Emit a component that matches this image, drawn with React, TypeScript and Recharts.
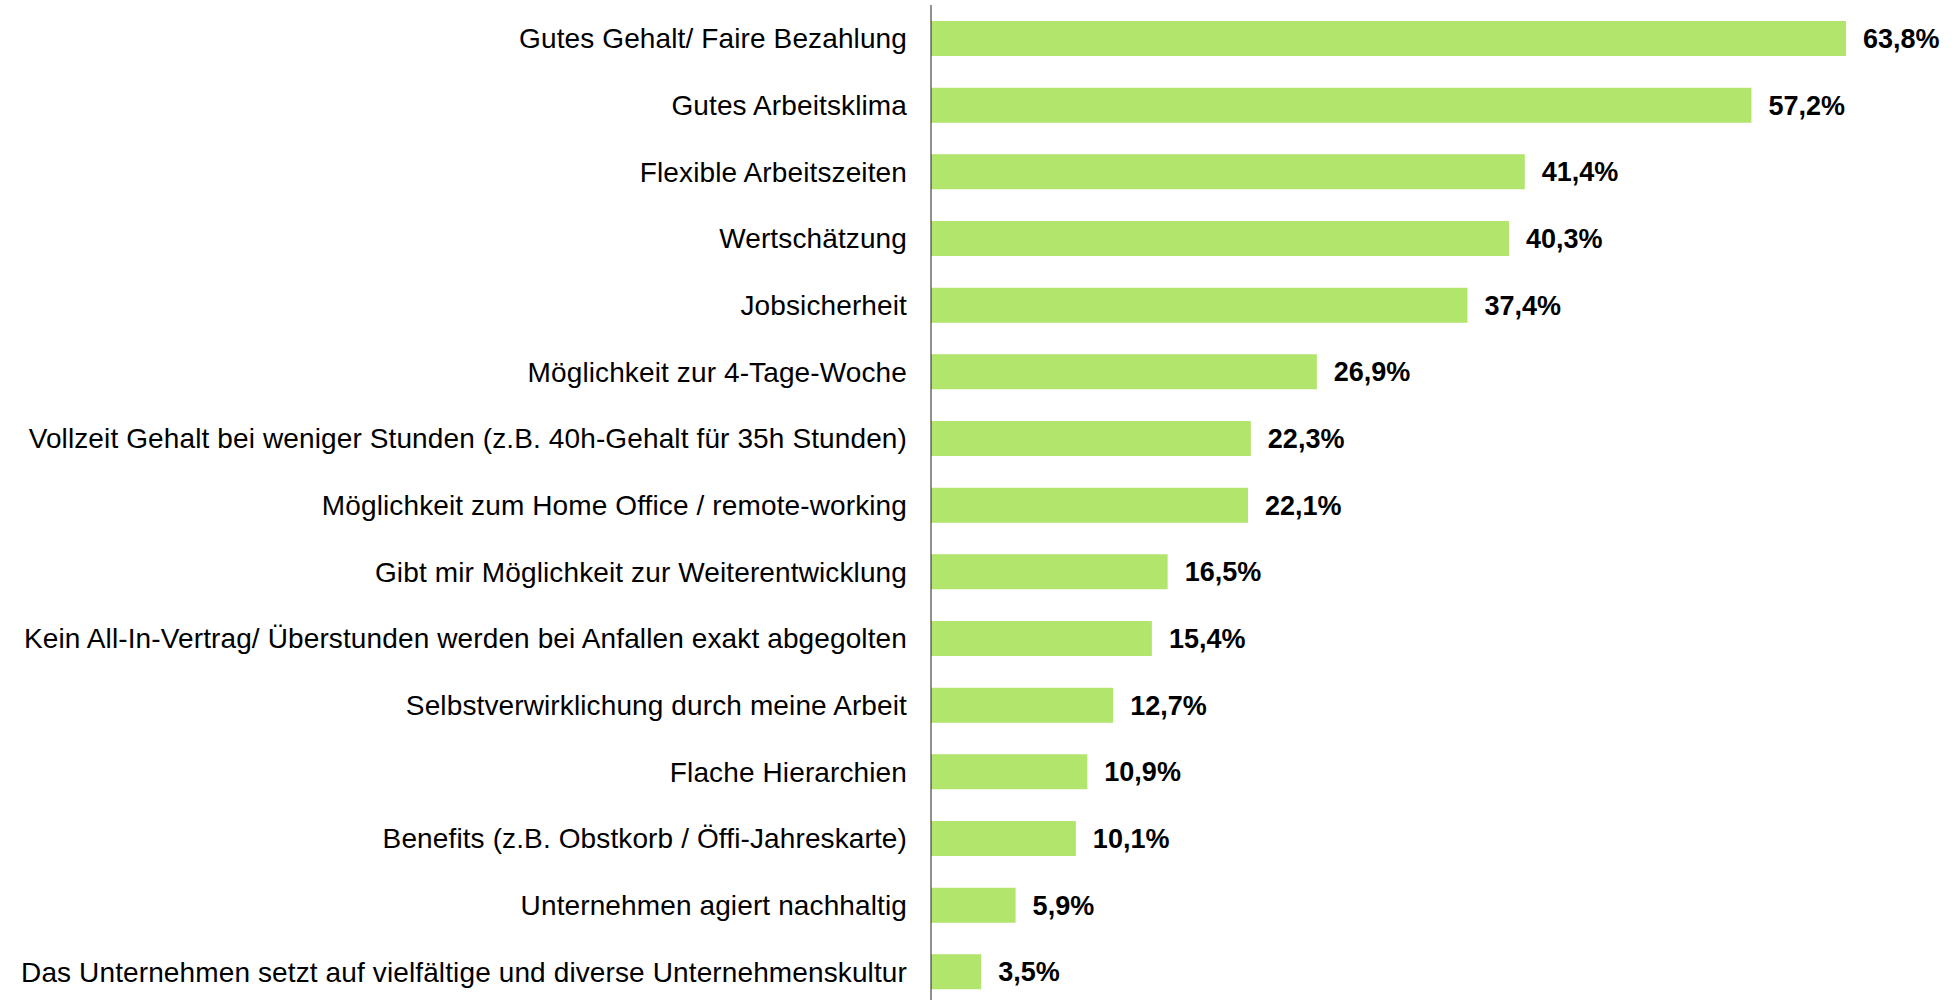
import { BarChart, Bar, XAxis, YAxis, LabelList } from 'recharts'

const categories = [
  'Gutes Gehalt/ Faire Bezahlung',
  'Gutes Arbeitsklima',
  'Flexible Arbeitszeiten',
  'Wertschätzung',
  'Jobsicherheit',
  'Möglichkeit zur 4-Tage-Woche',
  'Vollzeit Gehalt bei weniger Stunden (z.B. 40h-Gehalt für 35h Stunden)',
  'Möglichkeit zum Home Office / remote-working',
  'Gibt mir Möglichkeit zur Weiterentwicklung',
  'Kein All-In-Vertrag/ Überstunden werden bei Anfallen exakt abgegolten',
  'Selbstverwirklichung durch meine Arbeit',
  'Flache Hierarchien',
  'Benefits (z.B. Obstkorb / Öffi-Jahreskarte)',
  'Unternehmen agiert nachhaltig',
  'Das Unternehmen setzt auf vielfältige und diverse Unternehmenskultur',
]

const shares = [63.8, 57.2, 41.4, 40.3, 37.4, 26.9, 22.3, 22.1, 16.5, 15.4, 12.7, 10.9, 10.1, 5.9, 3.5]

const data = categories.map((name, i) => ({ name, value: shares[i] }))

const font = '"Liberation Sans", Arial, sans-serif'

const fmt = (v: any) => `${Number(v).toFixed(1).replace('.', ',')}%`

export default function App() {
  return (
    <div style={{ position: 'absolute', left: 0, top: 0, width: 1956, height: 1000, overflow: 'hidden', background: '#fff' }}>
      <BarChart
        width={1956}
        height={1005}
        data={data}
        layout="vertical"
        margin={{ top: 5, right: 21, bottom: 0, left: 0 }}
      >
        <XAxis type="number" domain={[0, 70]} hide />
        <YAxis
          type="category"
          dataKey="name"
          width={931}
          interval={0}
          tickLine={false}
          tickSize={0}
          tickMargin={24}
          axisLine={{ stroke: '#222', strokeWidth: 1 }}
          tick={{ fontSize: 28, fill: '#000', fontFamily: font, letterSpacing: 0.12 }}
        />
        <Bar dataKey="value" fill="#b2e56b" barSize={35} isAnimationActive={false}>
          <LabelList
            dataKey="value"
            position="right"
            offset={17}
            formatter={fmt}
            style={{ fontSize: 27, fontWeight: 700, fill: '#000', fontFamily: font }}
          />
        </Bar>
      </BarChart>
    </div>
  )
}
